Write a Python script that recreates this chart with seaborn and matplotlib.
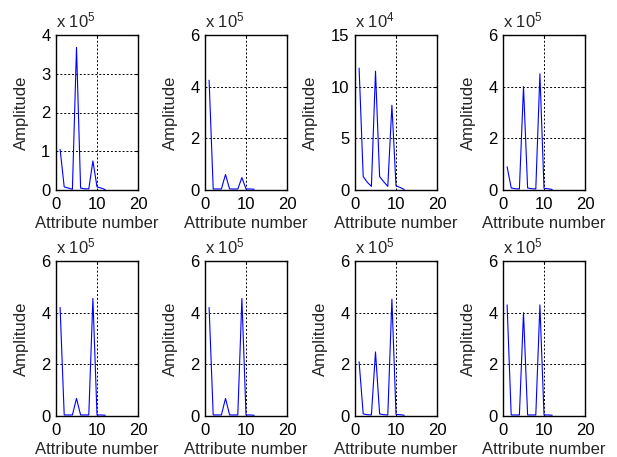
import numpy as np
import pandas as pd
import matplotlib
matplotlib.use("Agg")
import matplotlib.pyplot as plt
from matplotlib.ticker import FuncFormatter, FixedLocator
import seaborn as sns

# Attribute indices shared by every panel
attributes = list(range(1, 13))

# Amplitude per attribute for each panel, in units of 10**exponent
amp_1 = [1.05, 0.08, 0.05, 0.02, 3.68, 0.05, 0.03, 0.03, 0.75, 0.08, 0.05, 0.01]
amp_2 = [4.25, 0.04, 0.04, 0.04, 0.60, 0.04, 0.04, 0.04, 0.48, 0.04, 0.04, 0.03]
amp_3 = [11.8, 1.30, 0.75, 0.35, 11.5, 1.30, 0.80, 0.35, 8.20, 0.40, 0.25, 0.05]
amp_4 = [0.90, 0.08, 0.05, 0.04, 4.00, 0.08, 0.05, 0.04, 4.50, 0.06, 0.05, 0.02]
amp_5 = [4.20, 0.04, 0.04, 0.04, 0.68, 0.04, 0.04, 0.04, 4.55, 0.04, 0.04, 0.03]
amp_6 = [4.20, 0.04, 0.04, 0.04, 0.68, 0.04, 0.04, 0.04, 4.55, 0.04, 0.04, 0.03]
amp_7 = [2.10, 0.08, 0.05, 0.04, 2.48, 0.08, 0.05, 0.04, 4.52, 0.06, 0.05, 0.03]
amp_8 = [4.30, 0.04, 0.04, 0.04, 4.00, 0.04, 0.04, 0.04, 4.30, 0.04, 0.04, 0.03]

panels = [amp_1, amp_2, amp_3, amp_4, amp_5, amp_6, amp_7, amp_8]
exponents = [5, 5, 4, 5, 5, 5, 5, 5]
y_tops = [4, 6, 15, 6, 6, 6, 6, 6]
y_ticks = [[0, 1, 2, 3, 4], [0, 2, 4, 6], [0, 5, 10, 15], [0, 2, 4, 6],
           [0, 2, 4, 6], [0, 2, 4, 6], [0, 2, 4, 6], [0, 2, 4, 6]]
x_ticks = [0, 10, 20]

sns.set_style("white")
plt.rcParams["font.family"] = ["Liberation Sans", "DejaVu Sans"]
plt.rcParams["mathtext.fontset"] = "custom"
plt.rcParams["mathtext.rm"] = "Liberation Sans"
plt.rcParams["mathtext.it"] = "Liberation Sans"
plt.rcParams["mathtext.default"] = "regular"

fs = 12
fig = plt.figure(figsize=(6.17, 4.57), dpi=100)
W, H = 617.0, 457.0
col_left = [56, 205, 355, 503]
row_top = [35, 261]
ax_w, ax_h = 82, 155

for i, (vals, ex, top, yt) in enumerate(zip(panels, exponents, y_tops, y_ticks)):
    r, c = divmod(i, 4)
    left = col_left[c] / W
    bottom = (H - row_top[r] - ax_h) / H
    ax = fig.add_axes([left, bottom, ax_w / W, ax_h / H])
    scale = 10.0 ** ex
    df = pd.DataFrame({"attr": attributes, "amp": np.array(vals) * scale})
    sns.lineplot(data=df, x="attr", y="amp", color=(0, 0, 1), linewidth=0.8, ax=ax)

    ax.set_xlim(0, 20)
    ax.set_ylim(0, top * scale)
    ax.xaxis.set_major_locator(FixedLocator(x_ticks))
    ax.yaxis.set_major_locator(FixedLocator([t * scale for t in yt]))
    ax.yaxis.set_major_formatter(FuncFormatter(lambda v, p, s=scale: f"{v / s:g}"))
    ax.xaxis.set_major_formatter(FuncFormatter(lambda v, p: f"{v:g}"))

    ax.grid(True, color="black", linestyle=(0, (2, 2)), linewidth=0.7)
    ax.set_axisbelow(True)
    for sp in ax.spines.values():
        sp.set_color("black")
        sp.set_linewidth(1.0)
    ax.tick_params(direction="in", length=2.5, width=0.8, top=True, right=True,
                   labelsize=fs, colors="black")
    ax.tick_params(axis="x", pad=5)
    ax.tick_params(axis="y", pad=4)
    ax.set_xlabel("Attribute number", fontsize=fs, labelpad=3)
    ax.set_ylabel("Amplitude", fontsize=fs, labelpad=9)
    ax.text(0.0, 1.03, r"x 10$^{%d}$" % ex, transform=ax.transAxes,
            fontsize=fs, ha="left", va="bottom")

fig.savefig("out.png", dpi=100, facecolor="white")
